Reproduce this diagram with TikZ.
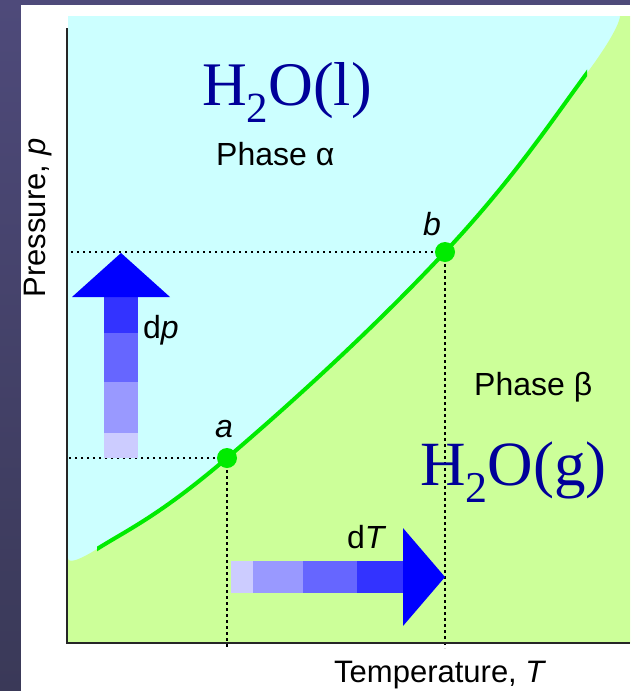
\documentclass[tikz,border=0pt]{standalone}
\usepackage{fontspec}
\setmainfont{Liberation Sans}
\newfontfamily\serifschrift{Liberation Serif}
\usetikzlibrary{calc}
\definecolor{rahmen}{RGB}{78,74,122}
\definecolor{rahmenunten}{RGB}{58,57,88}
\definecolor{fluessig}{RGB}{204,255,255}
\definecolor{gas}{RGB}{204,255,153}
\definecolor{grenze}{RGB}{0,235,0}
\definecolor{formel}{RGB}{0,0,153}
\definecolor{stufeA}{RGB}{204,204,255}
\definecolor{stufeB}{RGB}{153,153,255}
\definecolor{stufeC}{RGB}{102,102,255}
\definecolor{stufeD}{RGB}{51,51,255}
\definecolor{stufeE}{RGB}{0,0,255}

\begin{document}
\begin{tikzpicture}[x=1pt, y=-1pt, >=stealth,
    punktiert/.style={black, line width=2.5pt, dash pattern=on 2.5pt off 3.5pt},
    achse/.style={black!85, line width=2pt},
    beschriftung/.style={inner sep=0pt, anchor=base west, font=\fontsize{32}{32}\selectfont},
    formelname/.style={inner sep=0pt, anchor=base west, formel, font=\serifschrift\fontsize{62}{62}\selectfont},
]
\useasboundingbox (0,0) rectangle (630,691);

% Hintergrund
\shade[top color=rahmen, bottom color=rahmenunten] (0,0) rectangle (21,691);
\fill[rahmen] (0,0) rectangle (630,5);
\fill[white] (21,5) rectangle (630,691);

% Phasen
\fill[fluessig] (68,16) rectangle (630,643);
\fill[gas] plot[smooth, tension=0.7] coordinates {(68,558) (97,549) (227,458) (445,252) (587,73) (620,16)}
    -- (630,16) -- (630,643) -- (68,643) -- cycle;

\coordinate (O) at (67,643);
\coordinate (a) at (227,458);
\coordinate (b) at (445,252);

% Hilfslinien
\draw[punktiert] (a) -- (a -| O);
\draw[punktiert] (b) -- (b -| O);
\draw[punktiert] (a) -- ($(a |- O)+(0,5)$);
\draw[punktiert] (b) -- ($(b |- O)+(0,5)$);

% Achsen
\draw[achse] (67,28) -- (O) -- (630,643);

% Pfeil dp
\foreach \von/\farbe in {458/stufeA, 433/stufeB, 382/stufeC, 333/stufeD}
    \fill[\farbe] (104,\von) rectangle (138,297);
\fill[stufeE] (72,297) -- (121,253) -- (170,297) -- cycle;

% Pfeil dT
\foreach \von/\farbe in {231/stufeA, 253/stufeB, 303/stufeC, 357/stufeD}
    \fill[\farbe] (\von,561) rectangle (403,593);
\fill[stufeE] (403,528) -- (445,577) -- (403,626) -- cycle;

% Grenzlinie
\begin{scope}
\clip (97,0) rectangle (587,691);
\draw[grenze, line width=4pt] plot[smooth, tension=0.7] coordinates {(68,558) (97,549) (227,458) (445,252) (587,73) (620,16)};
\end{scope}
\fill[grenze] (a) circle (10pt);
\fill[grenze] (b) circle (10pt);

% Texte
\node[formelname] (fluessigname) at (202,105) {H\raisebox{-17pt}{\fontsize{43}{43}\selectfont 2}O(l)};
\node[formelname, font=\serifschrift\fontsize{63}{63}\selectfont] (gasname) at (420,485) {H\raisebox{-17pt}{\fontsize{44}{44}\selectfont 2}O(g)};
\node[beschriftung] (alpha) at (216,165) {Phase α};
\node[beschriftung] (beta) at (474,395) {Phase β};
\node[beschriftung] (dp) at (143,338) {d\textit{p}};
\node[beschriftung] (dT) at (347,548) {d\textit{T}};
\node[beschriftung] (punkta) at (215,437) {\textit{a}};
\node[beschriftung] (punktb) at (423,235) {\textit{b}};
\node[beschriftung, font=\fontsize{31}{31}\selectfont] (tachse) at (334,682) {Temperature, \textit{T}};
\node[beschriftung, anchor=base, rotate=90, font=\fontsize{31}{31}\selectfont] (pachse) at (45,218) {Pressure, \textit{p}};

\end{tikzpicture}
\end{document}
